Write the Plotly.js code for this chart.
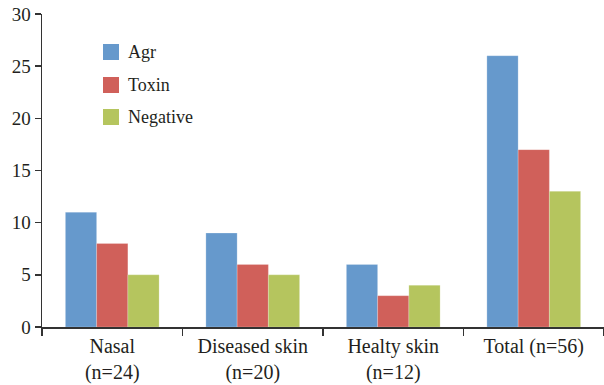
<!DOCTYPE html>
<html>
<head>
<meta charset="utf-8">
<script src="https://cdn.plot.ly/plotly-3.0.1.min.js"></script>
<style>html,body{margin:0;padding:0;background:#fff;}#chart{width:604px;height:385px;}</style>
</head>
<body>
<div id="chart"></div>
<script>
var categories = ["Nasal<br>(n=24)", "Diseased skin<br>(n=20)", "Healty skin<br>(n=12)", "Total (n=56)"];
var seriesNames = ["Agr", "Toxin", "Negative"];
var agr = [11, 9, 6, 26];
var toxin = [8, 6, 3, 17];
var negative = [5, 5, 4, 13];
var yTicks = [0, 5, 10, 15, 20, 25, 30];

var colors = ["#6699CC", "#D0605A", "#B5C55E"];
var values = [agr, toxin, negative];
var FONT = "'Liberation Serif', 'Times New Roman', serif";
var TXT = "#231f20";

var traces = values.map(function (v, i) {
  return {
    type: "bar", x: categories, y: v, name: seriesNames[i],
    marker: { color: colors[i], line: { color: "rgba(255,255,255,0.35)", width: 0.6 } },
    showlegend: false, hoverinfo: "x+y"
  };
});

// Plot area in pixels
var W = 604, H = 385, L = 42, R = 0, T = 14, B = 58;
var pw = W - L - R, ph = H - T - B;
function px2x(p) { return (p - L) / pw; }
function py2y(p) { return (H - B - p) / ph; }

var shapes = [], annotations = [];
var legTop = [44, 77, 109], sq = 16;
seriesNames.forEach(function (n, i) {
  shapes.push({ type: "rect", xref: "paper", yref: "paper",
    x0: px2x(103), x1: px2x(103 + sq), y0: py2y(legTop[i] + sq), y1: py2y(legTop[i]),
    fillcolor: colors[i], line: { width: 0 } });
  annotations.push({ xref: "paper", yref: "paper", x: px2x(126), y: py2y(legTop[i] + sq / 2),
    xanchor: "left", yanchor: "middle", text: n, showarrow: false,
    font: { family: FONT, size: 18, color: TXT } });
});

var layout = {
  width: W, height: H,
  margin: { l: L, r: R, t: T, b: B, pad: 0 },
  paper_bgcolor: "#fff", plot_bgcolor: "#fff",
  barmode: "group", bargap: 0.333, bargroupgap: 0,
  showlegend: false,
  font: { family: FONT, size: 19, color: TXT },
  xaxis: {
    type: "category", tickson: "boundaries", ticks: "outside", ticklen: 7, tickwidth: 1.5,
    tickcolor: "#333", showline: true, linecolor: "#333", linewidth: 1.5,
    showgrid: false, zeroline: false, tickangle: 0, ticklabelstandoff: 0,
    tickfont: { family: FONT, size: 20, color: TXT }
  },
  yaxis: {
    range: [0, 30], tickvals: yTicks, ticktext: yTicks.map(String),
    ticks: "outside", ticklen: 6, tickwidth: 1.5, tickcolor: "#333",
    showline: true, linecolor: "#333", linewidth: 1.5,
    showgrid: false, zeroline: false,
    tickfont: { family: FONT, size: 19, color: TXT }
  },
  shapes: shapes,
  annotations: annotations
};

Plotly.newPlot("chart", traces, layout, { displayModeBar: false, staticPlot: true });
</script>
</body>
</html>
